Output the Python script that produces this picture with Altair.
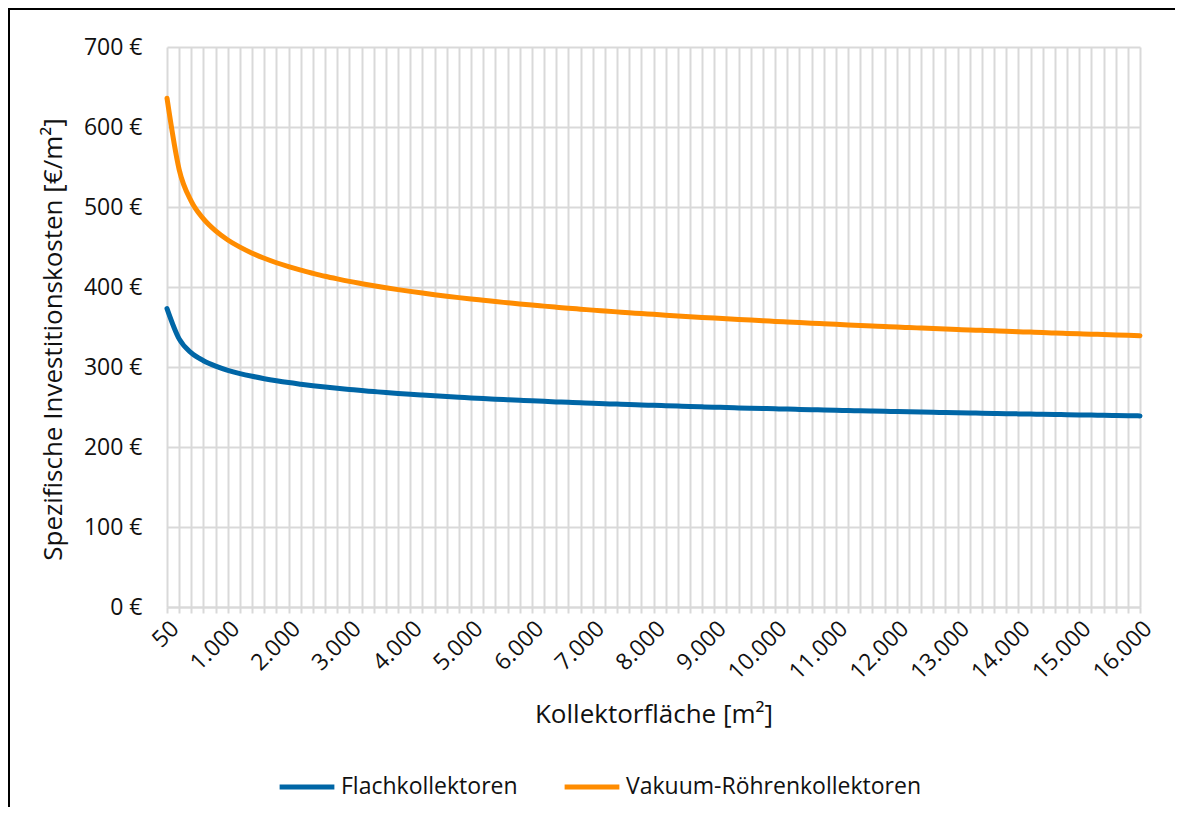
import altair as alt
import pandas as pd

# Kollektorfläche categories [m²]
areas = [50] + [200 * k for k in range(1, 81)]

flach = [373.0, 335.1, 317.6, 307.9, 301.1, 295.9, 291.8, 288.4, 285.4, 282.8, 280.5,
         278.5, 276.6, 274.9, 273.3, 271.9, 270.5, 269.3, 268.1, 267.0, 265.9,
         264.9, 264.0, 263.1, 262.2, 261.4, 260.6, 259.8, 259.1, 258.4, 257.7,
         257.1, 256.4, 255.8, 255.2, 254.7, 254.1, 253.6, 253.1, 252.5, 252.1,
         251.6, 251.1, 250.6, 250.2, 249.8, 249.3, 248.9, 248.5, 248.1, 247.7,
         247.4, 247.0, 246.6, 246.3, 245.9, 245.6, 245.2, 244.9, 244.6, 244.3,
         244.0, 243.7, 243.4, 243.1, 242.8, 242.5, 242.2, 241.9, 241.7, 241.4,
         241.1, 240.9, 240.6, 240.4, 240.1, 239.9, 239.6, 239.4, 239.1, 238.9]

vakuum = [636.0, 546.8, 507.0, 485.1, 470.1, 458.8, 449.8, 442.3, 435.9, 430.3, 425.4,
          421.0, 417.1, 413.4, 410.1, 407.0, 404.2, 401.5, 399.0, 396.7, 394.5,
          392.4, 390.4, 388.5, 386.7, 385.0, 383.4, 381.8, 380.3, 378.8, 377.4,
          376.1, 374.8, 373.5, 372.3, 371.1, 370.0, 368.9, 367.8, 366.8, 365.8,
          364.8, 363.8, 362.9, 362.0, 361.1, 360.2, 359.4, 358.6, 357.8, 357.0,
          356.2, 355.5, 354.7, 354.0, 353.3, 352.6, 351.9, 351.2, 350.6, 350.0,
          349.3, 348.7, 348.1, 347.5, 346.9, 346.3, 345.8, 345.2, 344.7, 344.1,
          343.6, 343.1, 342.5, 342.0, 341.5, 341.0, 340.6, 340.1, 339.6, 339.1]

series_names = ["Flachkollektoren", "Vakuum-Röhrenkollektoren"]
series_colors = ["#0066A6", "#FF8C00"]
y_ticks = [0, 100, 200, 300, 400, 500, 600, 700]

def de(v):
    return f"{v:,}".replace(",", ".")

area_labels = [de(a) for a in areas]
shown_labels = ["50"] + [de(1000 * i) for i in range(1, 17)]

rows = []
for name, vals in zip(series_names, [flach, vakuum]):
    for lab, v in zip(area_labels, vals):
        rows.append({"Fläche": lab, "Kosten": v, "Typ": name})
df = pd.DataFrame(rows)

FONT = "Open Sans"
TXT = "#111111"
GRID = "#D9D9D9"
W, H = 973, 560
PAD = {"left": 159, "top": 39, "right": 35, "bottom": 200}

label_expr = "indexof([" + ",".join(f"'{s}'" for s in shown_labels) + "], datum.label) >= 0 ? datum.label : ''"

lines = alt.Chart(df).mark_line(strokeWidth=5, interpolate="monotone", strokeCap="round").encode(
    x=alt.X("Fläche:O", sort=area_labels,
            scale=alt.Scale(type="point", padding=0),
            axis=alt.Axis(title="Kollektorfläche [m²]", labelAngle=-45, labelExpr=label_expr,
                          labelOverlap=False, labelBound=False, grid=True, gridColor=GRID,
                          gridWidth=2, domainColor=GRID, domainWidth=2, tickColor=GRID,
                          tickWidth=2, tickSize=6, labelPadding=4, titlePadding=17,
                          labelFontSize=23, titleFontSize=26)),
    y=alt.Y("Kosten:Q", scale=alt.Scale(domain=[0, 700], nice=False),
            axis=alt.Axis(title="Spezifische Investitionskosten [€/m²]", values=y_ticks,
                          labelExpr="datum.value + ' €'", grid=True, gridColor=GRID, gridWidth=2,
                          domain=False, ticks=False, labelPadding=25, titlePadding=17,
                          titleY=292, labelFontSize=23, titleFontSize=26)),
    color=alt.Color("Typ:N", scale=alt.Scale(domain=series_names, range=series_colors),
                    legend=alt.Legend(title=None, orient="none", direction="horizontal",
                                      legendX=110, legendY=710, symbolType="stroke",
                                      symbolSize=3000, symbolStrokeWidth=5, labelFontSize=23,
                                      labelLimit=600, columnPadding=36, labelOffset=4)),
)

# outer chart frame (left and top edges visible in the reference), as thin filled bars
frame_df = pd.DataFrame({"k": [0]})
frame_left = alt.Chart(frame_df).mark_rect(color="black", strokeWidth=0).encode(
    x=alt.value(-PAD["left"]), x2=alt.value(-PAD["left"] + 2),
    y=alt.value(-PAD["top"]), y2=alt.value(H + PAD["bottom"]))
frame_top = alt.Chart(frame_df).mark_rect(color="black", strokeWidth=0).encode(
    x=alt.value(-PAD["left"]), x2=alt.value(W + PAD["right"]),
    y=alt.value(-PAD["top"]), y2=alt.value(-PAD["top"] + 2))

chart = alt.layer(frame_left, frame_top, lines).properties(
    width=W, height=H,
    autosize=alt.AutoSizeParams(type="none"),
    padding=PAD,
).configure(font=FONT).configure_axis(
    labelColor=TXT, titleColor=TXT, labelFont=FONT, titleFont=FONT, titleFontWeight="normal"
).configure_legend(labelColor=TXT, labelFont=FONT).configure_view(strokeWidth=0)

chart.save("out.html", embed_options={"renderer": "svg", "actions": False})
